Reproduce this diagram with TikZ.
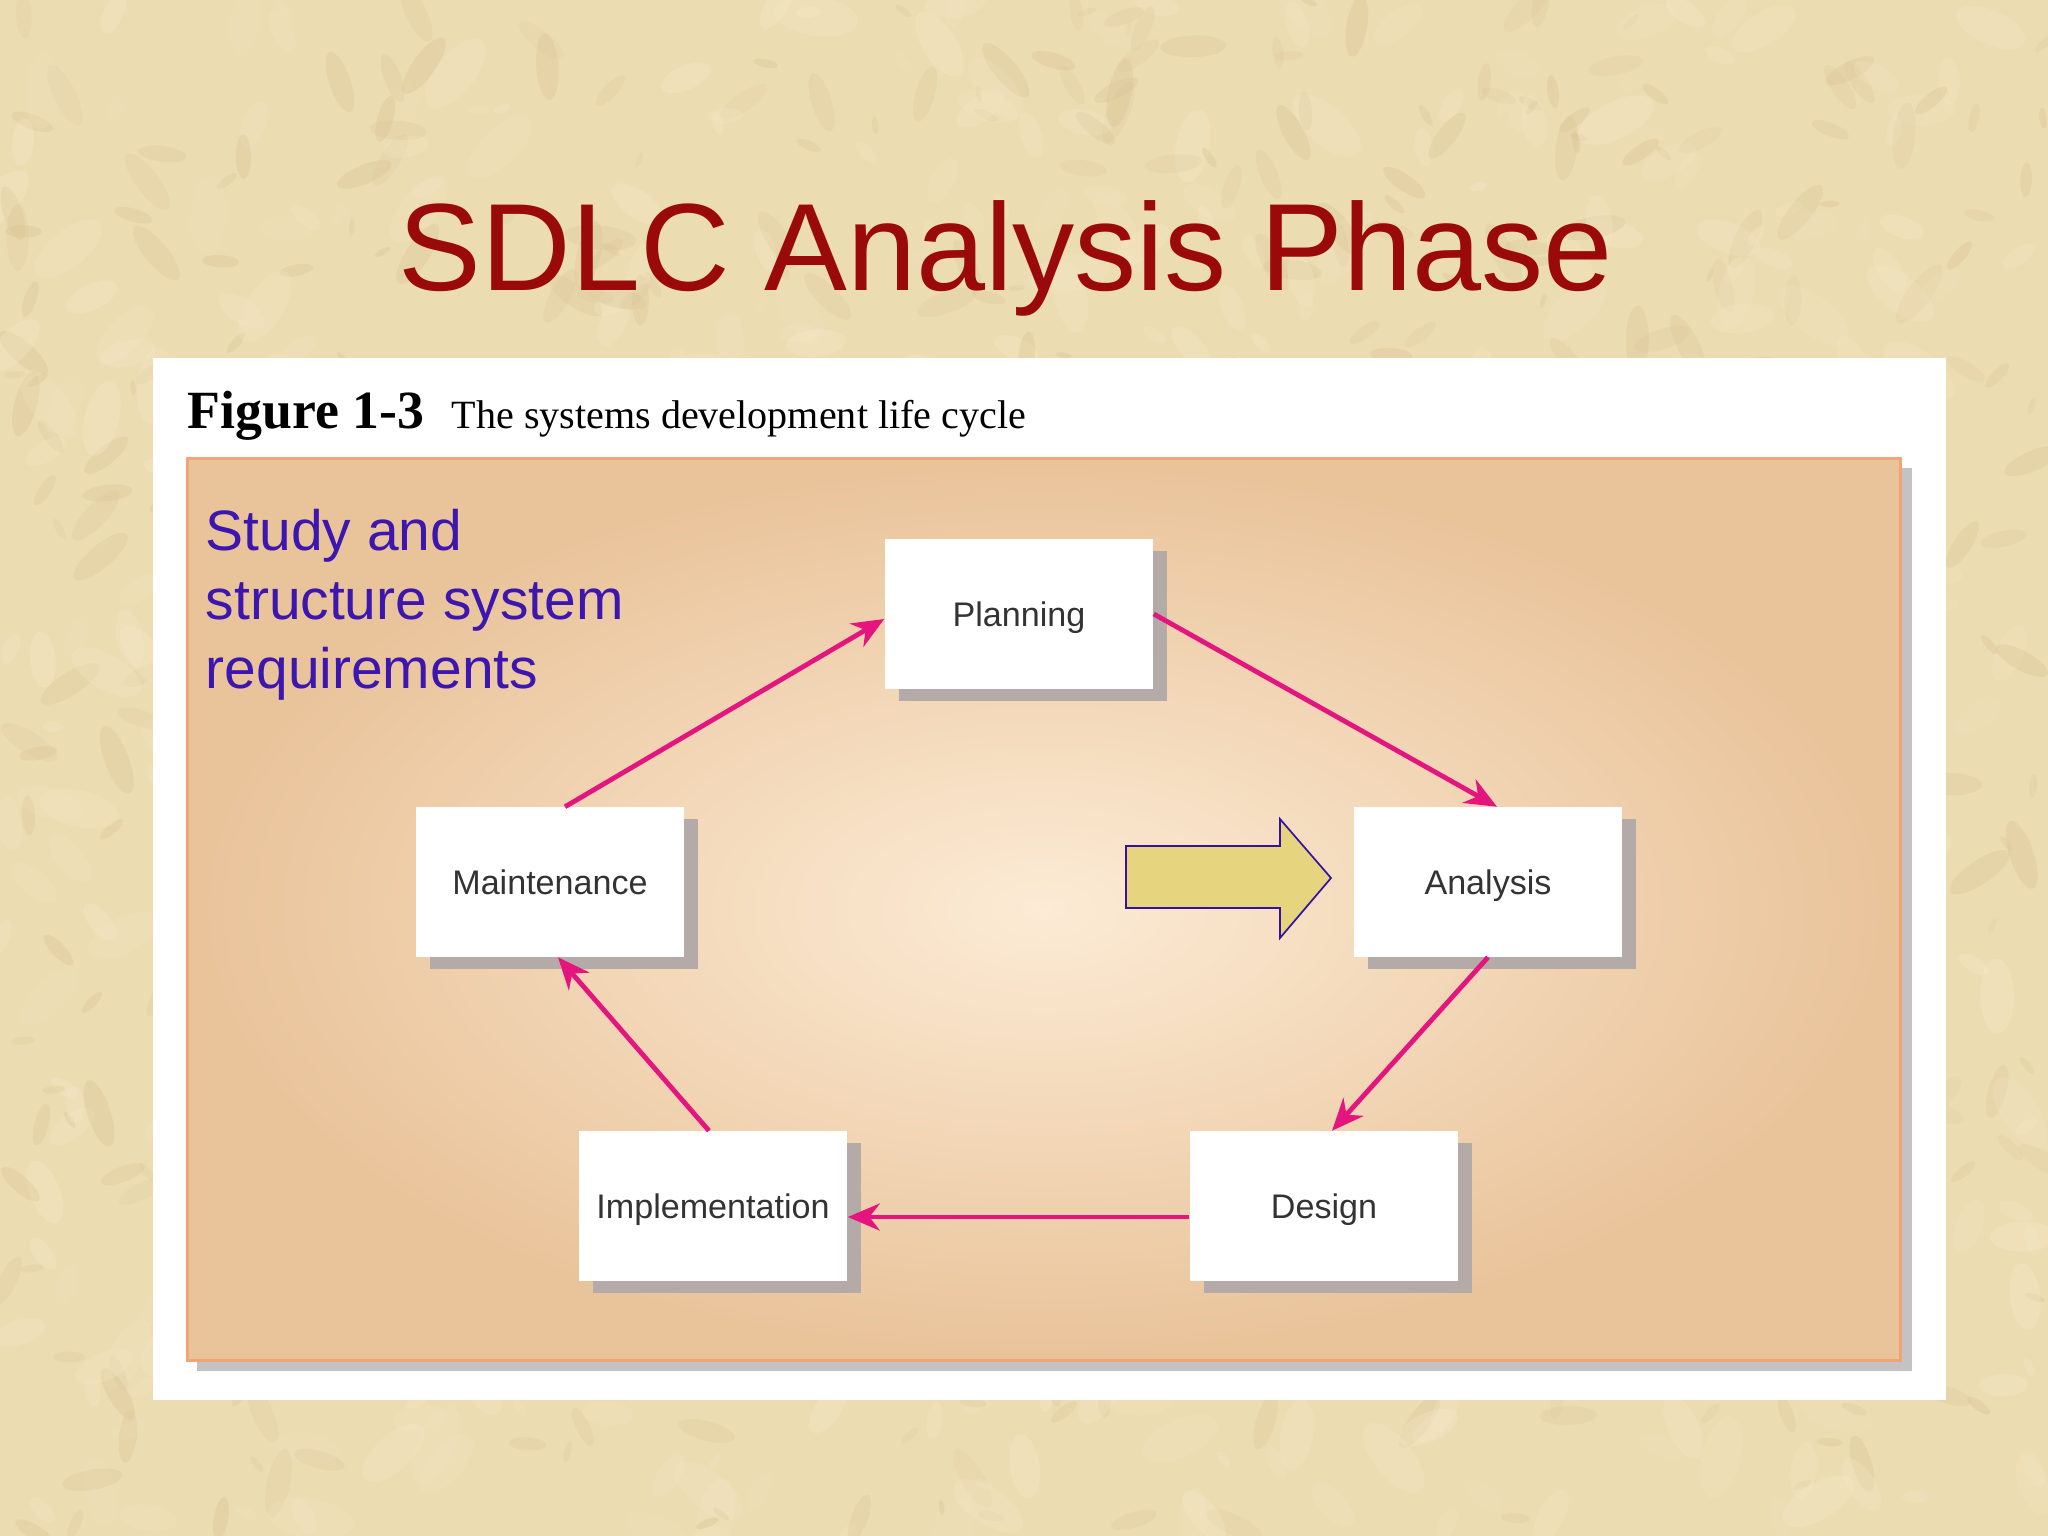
\documentclass[tikz,border=0pt]{standalone}
\usepackage{fontspec}
\setmainfont{Liberation Serif}
\setsansfont{Liberation Sans}
\usetikzlibrary{arrows.meta,shadows}
\definecolor{bgcol}{HTML}{ECDCB2}
\definecolor{bglight}{HTML}{F6EACB}
\definecolor{bgdark}{HTML}{D6C090}
\definecolor{titlered}{HTML}{9B0A0A}
\definecolor{studyblue}{HTML}{3D16B0}
\definecolor{panelin}{HTML}{FCEBD5}
\definecolor{panelout}{HTML}{E9C39A}
\definecolor{panelborder}{HTML}{F2A474}
\definecolor{panelshadow}{HTML}{C4C2C2}
\definecolor{boxshadow}{HTML}{B4ABA8}
\definecolor{flowpink}{HTML}{E4157F}
\definecolor{arrowfill}{HTML}{E6D47E}
\definecolor{arrowedge}{HTML}{33139E}
\definecolor{labelgray}{HTML}{333333}
\tikzset{
  phasebox/.style={draw=none, fill=white, minimum width=2.68cm, minimum height=1.49cm,
    inner sep=0pt, text height=0.716em, text depth=0pt,
    font=\sffamily\fontsize{9.7}{11}\selectfont, text=labelgray,
    drop shadow={shadow xshift=0.14cm, shadow yshift=-0.12cm, fill=boxshadow, opacity=1}},
  flow/.style={draw=flowpink, line width=0.048cm, -{Stealth[length=0.32cm,width=0.27cm]}}
}
\begin{document}
\begin{tikzpicture}[x=0.01cm,y=-0.01cm]
\useasboundingbox (0,0) rectangle (2048,1536);
\fill[bgcol] (0,0) rectangle (2048,1536);
% background texture (fine mottling)
\pgfmathsetseed{7}
\foreach \i in {1,...,1200}{
  \pgfmathsetmacro{\bx}{rnd*2048}
  \pgfmathsetmacro{\by}{rnd*1536}
  \pgfmathsetmacro{\br}{4+rnd*16}
  \pgfmathsetmacro{\bo}{0.12+rnd*0.2}
  \pgfmathsetmacro{\ba}{rnd*180}
  \ifodd\i
    \fill[bglight, opacity=\bo, rotate around={\ba:(\bx,\by)}] (\bx,\by) ellipse ({\br*2.2} and \br);
  \else
    \fill[bgdark, opacity=\bo, rotate around={\ba:(\bx,\by)}] (\bx,\by) ellipse ({\br*1.8} and {\br*0.6});
  \fi
}
% title
\node[anchor=base, text=titlered, font=\sffamily\fontsize{35.3}{40}\selectfont, inner sep=0pt] (title) at (1006,290) {SDLC Analysis Phase};
% white panel
\fill[white] (153,358) rectangle (1946,1400);
% caption
\node[anchor=base west, inner sep=0pt, font=\bfseries\fontsize{15.3}{17}\selectfont] (figlabel) at (187,428) {Figure 1-3};
\node[anchor=base west, inner sep=0pt, font=\fontsize{11.4}{13}\selectfont] (figcap) at (451,428) {The systems development life cycle};
% orange panel with shadow
\fill[panelshadow] (197,468) rectangle (1912,1371);
\shade[inner color=panelin, outer color=panelout] (187,458) rectangle (1900,1360);
\draw[panelborder, line width=0.03cm] (187,458) rectangle (1900,1360);
% study text
\node[anchor=base west, inner sep=0pt, align=left, text=studyblue,
  font=\sffamily\fontsize{16.2}{19.6}\selectfont] (study) at (205,688)
  {Study and\\structure system\\requirements};
% boxes
\node[phasebox] (plan)  at (1019,614)  {Planning};
\node[phasebox] (anal)  at (1488,882)  {Analysis};
\node[phasebox] (maint) at (550,882)   {Maintenance};
\node[phasebox] (impl)  at (713,1206)  {Implementation};
\node[phasebox] (des)   at (1324,1206) {Design};
% connectors
\draw[flow] ([xshift=0.15cm]maint.north) -- ([yshift=-0.05cm]plan.west);
\draw[flow] (plan.east) -- ([xshift=0.09cm]anal.north);
\draw[flow] (anal.south) -- ([xshift=0.08cm]des.north);
\draw[flow] ([yshift=-0.11cm]des.west) -- ([yshift=-0.11cm]impl.east);
\draw[flow] ([xshift=-0.04cm]impl.north) -- ([xshift=0.08cm]maint.south);
% yellow block arrow
\draw[fill=arrowfill, draw=arrowedge, line width=0.017cm, line join=miter]
  (1126,846) -- (1280,846) -- (1280,819) -- (1331,878) -- (1280,938) -- (1280,908) -- (1126,908) -- cycle;
\end{tikzpicture}
\end{document}
